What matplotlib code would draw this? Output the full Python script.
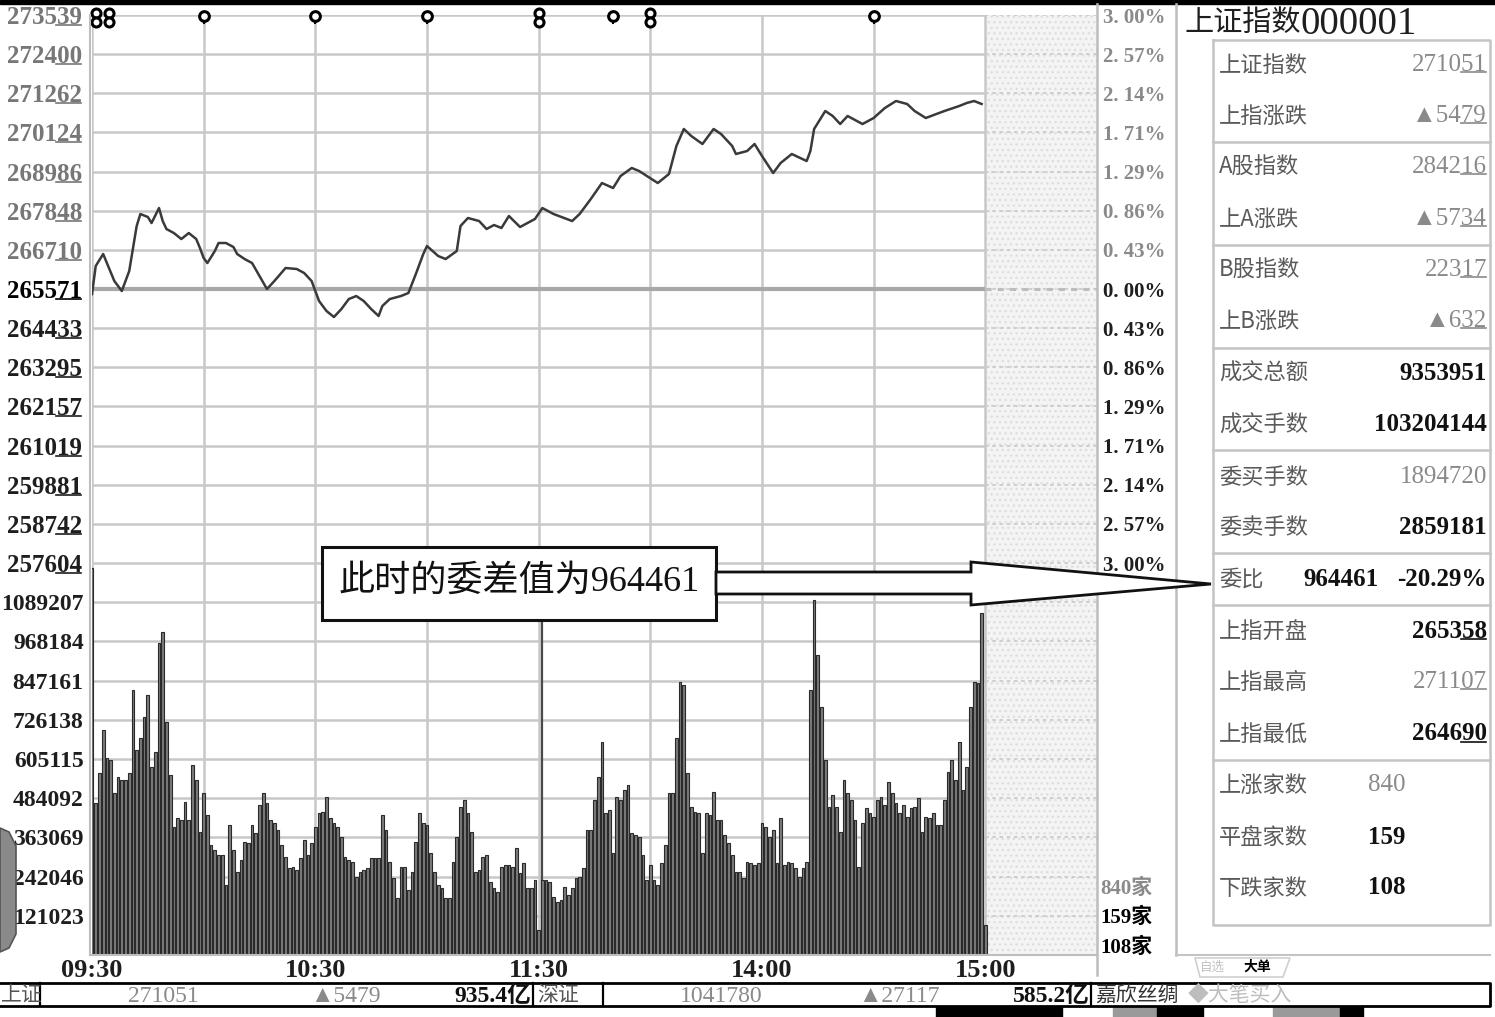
import matplotlib
matplotlib.use("Agg")
import matplotlib.pyplot as plt
from matplotlib.patches import Polygon, Rectangle
from matplotlib.lines import Line2D

W, H = 1495, 1017

# ---- data ----
PRICE_TICKS = [273539, 272400, 271262, 270124, 268986, 267848, 266710, 265571,
               264433, 263295, 262157, 261019, 259881, 258742, 257604]
PCT_LABELS = ["3. 00%", "2. 57%", "2. 14%", "1. 71%", "1. 29%", "0. 86%", "0. 43%", "0. 00%",
              "0. 43%", "0. 86%", "1. 29%", "1. 71%", "2. 14%", "2. 57%", "3. 00%"]
VOL_TOP = 1210230
VOL_TICKS = [1089207, 968184, 847161, 726138, 605115, 484092, 363069, 242046, 121023]
TIME_TICKS = [0, 60, 120, 180, 240]
TIME_LABELS = ["09:30", "10:30", "11:30", "14:00", "15:00"]

# minutes since 09:30 (lunch break removed) and index value
PRICE_T = [0, 1, 3, 4, 6, 8, 10, 12, 13, 15, 16, 18, 19, 20, 22, 24, 25, 26, 28, 29,
           30, 31, 33, 34, 36, 38, 39, 41, 43, 45, 47, 49, 52, 55, 57, 59, 61, 63, 65, 67,
           69, 71, 73, 75, 77, 78, 80, 83, 85, 87, 89, 90, 93, 95, 98, 99, 101, 104, 106, 108,
           110, 112, 115, 119, 121, 124, 129, 131, 134, 137, 140, 142, 145, 147, 152, 155, 157, 159, 161, 164,
           167, 169, 172, 173, 176, 178, 180, 183, 185, 188, 192, 193, 194, 197, 199, 201, 203, 207, 210, 213,
           216, 219, 221, 224, 229, 233, 235, 237, 239]
PRICE_V = [265426, 266240, 266589, 266327, 265804, 265513, 266094, 267403, 267752, 267665,
           267490, 267926, 267548, 267316, 267199, 267025, 267112, 267199, 267025, 266763,
           266472, 266327, 266676, 266909, 266909, 266792, 266589, 266443, 266327, 265949,
           265571, 265804, 266182, 266153, 266036, 265804, 265222, 264931, 264757, 264989,
           265280, 265367, 265222, 264989, 264786, 265077, 265280, 265367, 265455, 266007,
           266589, 266821, 266531, 266443, 266676, 267403, 267636, 267548, 267316, 267432,
           267345, 267694, 267374, 267607, 267926, 267752, 267548, 267752, 268188, 268653,
           268508, 268857, 269090, 269002, 268653, 268915, 269729, 270224, 270020, 269788,
           270224, 270078, 269729, 269497, 269584, 269788, 269439, 268944, 269235, 269497,
           269293, 269584, 270224, 270747, 270602, 270369, 270602, 270369, 270544, 270834,
           271038, 270951, 270747, 270544, 270747, 270893, 270980, 271038, 270951]

# one bar per minute, in thousands of lots
VOLUME_K = [
    1195, 468, 561, 695, 607, 602, 499, 551, 540, 540,
    561, 818, 633, 669, 736, 803, 581, 628, 962, 998,
    720, 556, 396, 422, 417, 473, 417, 587, 540, 381,
    499, 432, 340, 324, 309, 309, 216, 401, 324, 257,
    293, 350, 345, 401, 376, 463, 499, 468, 417, 406,
    386, 340, 304, 268, 273, 262, 298, 355, 309, 345,
    396, 437, 442, 489, 422, 406, 396, 365, 304, 293,
    288, 242, 257, 262, 268, 298, 298, 298, 432, 386,
    288, 237, 175, 273, 273, 201, 257, 350, 437, 406,
    401, 314, 257, 216, 206, 175, 175, 288, 365, 458,
    478, 437, 381, 257, 262, 304, 309, 226, 206, 196,
    273, 278, 278, 273, 329, 252, 283, 206, 206, 232,
    77, 232, 232, 226, 180, 165, 170, 211, 185, 206,
    237, 242, 268, 386, 386, 478, 551, 659, 437, 448,
    314, 489, 478, 509, 525, 376, 370, 365, 309, 232,
    278, 232, 216, 283, 340, 499, 499, 669, 844, 833,
    561, 458, 442, 437, 314, 437, 432, 504, 417, 417,
    370, 345, 309, 257, 257, 237, 288, 283, 278, 283,
    406, 396, 365, 386, 283, 422, 278, 288, 283, 268,
    242, 268, 288, 818, 1096, 926, 767, 602, 458, 494,
    458, 381, 540, 499, 478, 417, 273, 406, 453, 437,
    427, 478, 489, 463, 535, 499, 468, 437, 463, 427,
    453, 458, 484, 381, 427, 422, 437, 401, 401, 478,
    566, 602, 540, 659, 509, 581, 767, 844, 839, 1055,
    93,
]
CURSOR_T = 121

MARK_O_T = [30, 60, 90, 140, 210]
MARK_8_T = [1, 4.5, 120, 150]

PANEL_ROWS = [
    ("上证指数", "271051", "gray"), ("上指涨跌", "▲5479", "gray"),
    ("A股指数", "284216", "gray"), ("上A涨跌", "▲5734", "gray"),
    ("B股指数", "22317", "gray"), ("上B涨跌", "▲632", "gray"),
    ("成交总额", "9353951", "bold"), ("成交手数", "103204144", "bold"),
    ("委买手数", "1894720", "gray"), ("委卖手数", "2859181", "bold"),
    ("委比", "-20.29%", "bold"),
    ("上指开盘", "265358", "bold"), ("上指最高", "271107", "gray"), ("上指最低", "264690", "bold"),
    ("上涨家数", "840", "gray"), ("平盘家数", "159", "bold"), ("下跌家数", "108", "bold"),
]
WEIBI_DIFF = "964461"
UNDERLINED = {"271051", "▲5479", "284216", "▲5734", "22317", "▲632", "265358", "271107", "264690"}

SERIF = ["Liberation Serif", "Noto Sans CJK SC", "DejaVu Sans"]
CJK = ["Noto Sans CJK SC", "DejaVu Sans"]
GRID = "#c8c8c8"
GRAY_TXT = "#777777"
DARK = "#1e1e1e"

plt.rcParams["font.family"] = SERIF

fig = plt.figure(figsize=(W / 100, H / 100), dpi=100)
fig.patch.set_facecolor("white")


def rect(x0, y0, x1, y1):
    return [x0 / W, 1 - y1 / H, (x1 - x0) / W, (y1 - y0) / H]


def ftext(x, y, s, **kw):
    kw.setdefault("va", "center")
    return fig.text(x / W, 1 - y / H, s, **kw)


def fline(xs, ys, **kw):
    fig.add_artist(Line2D([x / W for x in xs], [1 - y / H for y in ys], **kw))


def fpoly(pts, **kw):
    fig.add_artist(Polygon([(x / W, 1 - y / H) for x, y in pts], closed=True,
                           transform=fig.transFigure, **kw))


ax_p = fig.add_axes(rect(92, 15, 1097, 563))
ax_v = fig.add_axes(rect(92, 563, 1097, 955))
for ax in (ax_p, ax_v):
    ax.set_xlim(0, 270)
    ax.set_xticks([])
    for s in ax.spines.values():
        s.set_visible(False)
    ax.set_facecolor("white")
    ax.axvspan(240, 270, facecolor="#f4f4f4", edgecolor="#dedede", hatch="...", lw=0, zorder=0)
    ax.vlines(range(0, 241, 30), 0, 1, transform=ax.get_xaxis_transform(),
              color=GRID, lw=1.8, zorder=1)

# ---- price panel ----
ax_p.set_ylim(PRICE_TICKS[-1], PRICE_TICKS[0])
ax_p.hlines(PRICE_TICKS, 0, 240, color=GRID, lw=1.8, zorder=1)
ax_p.hlines(PRICE_TICKS, 240, 270, color="#cccccc", lw=1.3, linestyles=(0, (2, 2)), zorder=1)
ax_p.hlines(PRICE_TICKS[7], 0, 240, color="#a8a8a8", lw=3.0, zorder=1)
ax_p.hlines(PRICE_TICKS[7], 240, 270, color="#bdbdbd", lw=2.2, linestyles=(0, (2, 2)), zorder=1)
ax_p.plot(PRICE_T, PRICE_V, color="#3a3a3a", lw=1.8, zorder=3)

ax_p.set_yticks(PRICE_TICKS, labels=[str(v) for v in PRICE_TICKS])
ax_p.tick_params(axis="y", length=0, pad=7, labelsize=18)
for i, lab in enumerate(ax_p.get_yticklabels()):
    lab.set_fontweight("bold")
    lab.set_color(GRAY_TXT if i < 7 else DARK)
    if i == 7:
        lab.set_color("black")

ax_r = ax_p.twinx()
ax_r.set_ylim(PRICE_TICKS[-1], PRICE_TICKS[0])
for s in ax_r.spines.values():
    s.set_visible(False)
ax_r.set_yticks(PRICE_TICKS, labels=PCT_LABELS)
ax_r.tick_params(axis="y", length=0, pad=4, labelsize=15)
for i, lab in enumerate(ax_r.get_yticklabels()):
    lab.set_fontweight("bold")
    lab.set_color("#8a8a8a" if i < 7 else DARK)

# event markers along the top edge
y_top = PRICE_TICKS[0]
px = (PRICE_TICKS[0] - PRICE_TICKS[-1]) / 548.0
for t in MARK_O_T:
    ax_p.plot([t, t], [y_top - 2 * px, y_top - 8 * px], color="black", lw=1.5, clip_on=False, zorder=6)
    ax_p.plot([t], [y_top - 1 * px], marker="o", ms=7, mfc="white", mec="black", mew=2.2,
              clip_on=False, zorder=7)
for t in MARK_8_T:
    ax_p.plot([t, t], [y_top + 4 * px, y_top - 10 * px], color="black", lw=1.2, clip_on=False, zorder=6)
    ax_p.plot([t, t], [y_top + 2 * px, y_top - 7 * px], ls="none", marker="o", ms=6.5, mfc="white",
              mec="black", mew=2.2, clip_on=False, zorder=7)

# ---- volume panel ----
ax_v.set_ylim(0, VOL_TOP)
ax_v.hlines(VOL_TICKS + [VOL_TOP], 0, 240, color=GRID, lw=1.8, zorder=1)
ax_v.hlines(VOL_TICKS + [VOL_TOP], 240, 270, color="#cccccc", lw=1.3, linestyles=(0, (2, 2)), zorder=1)
ax_v.axvline(CURSOR_T, color="#4a4a4a", lw=1.6, zorder=2)
ax_v.bar(range(len(VOLUME_K)), [v * 1000 for v in VOLUME_K], width=0.72, color="#7c7c7c",
         edgecolor="#2a2a2a", lw=0.8, zorder=3)
ax_v.set_yticks(VOL_TICKS, labels=[str(v) for v in VOL_TICKS])
ax_v.tick_params(axis="y", length=0, pad=6, labelsize=17)
for lab in ax_v.get_yticklabels():
    lab.set_fontweight("bold")
    lab.set_color(DARK)
ax_v.set_xticks(TIME_TICKS, labels=TIME_LABELS)
ax_v.tick_params(axis="x", length=0, pad=3, labelsize=19)
for lab in ax_v.get_xticklabels():
    lab.set_fontweight("bold")
    lab.set_color(DARK)

# frame / separator lines
fline([90, 90], [15, 955], color="#bdbdbd", lw=1.5)
fline([90, 1097], [955, 955], color="#bdbdbd", lw=1.5)
fline([1097, 1097], [4, 975], color="#bdbdbd", lw=1.8)
fline([1176, 1176], [4, 955], color="#bdbdbd", lw=1.8)
fline([1176, 1490], [955, 955], color="#c4c4c4", lw=1.5)
fig.add_artist(Rectangle((0, 1 - 4 / H), 1, 4 / H, transform=fig.transFigure, color="black"))

# breadth counts under the percent scale
ftext(1100, 889, "840家", fontsize=15, color="#8a8a8a", fontweight="bold")
ftext(1100, 918, "159家", fontsize=15, color="black", fontweight="bold")
ftext(1100, 948, "108家", fontsize=15, color="black", fontweight="bold")

# ---- right quote panel ----
ftext(1185, 23, "上证指数", fontsize=21, color=DARK, family=CJK)
ftext(1300, 24, "000001", fontsize=28, color=DARK)
fline([1213, 1490, 1490, 1213, 1213], [40, 40, 925, 925, 40], color="#c4c4c4", lw=1.8)
for y in [142, 245, 348, 450, 553, 605, 760]:
    fline([1213, 1490], [y, y], color="#c4c4c4", lw=1.8)

row_y = [65, 116, 167, 219, 270, 321, 373, 425, 477, 528, 579, 631, 682, 734, 785, 837, 888]
underline_targets = []
for (name, val, style), y in zip(PANEL_ROWS, row_y):
    ftext(1219, y, name, fontsize=16, color="#5a5a5a", family=CJK)
    col = "#8a8a8a" if style == "gray" else "#111111"
    wt = "normal" if style == "gray" else "bold"
    if name.endswith("家数"):
        ftext(1368, y, val, fontsize=18, color=col, fontweight=wt, ha="left")
    else:
        t = ftext(1487, y, val, fontsize=18, color=col, fontweight=wt, ha="right")
        if val in UNDERLINED:
            underline_targets.append(t)
    if name == "委比":
        ftext(1378, y, WEIBI_DIFF, fontsize=18, color="#111111", fontweight="bold", ha="right")

# tabs below the panel
fpoly([(1195, 958), (1290, 958), (1283, 977), (1200, 977)], facecolor="white", edgecolor="#cfcfcf", lw=1.2)
ftext(1200, 967, "自选", fontsize=9, color="#c0c0c0", family=CJK)
ftext(1243, 967, "大单", fontsize=10, color="black", family=CJK, fontweight="bold")

# ---- callout box and hollow arrow ----
fpoly([(322, 547), (716, 547), (716, 620), (322, 620)], facecolor="white", edgecolor="#111111", lw=2.2, zorder=5)
ftext(519, 582, "此时的委差值为964461", fontsize=26, color="#111111", ha="center", zorder=6)
fpoly([(716, 572), (971, 572), (971, 562), (1211, 584), (971, 605), (971, 594), (716, 594)],
      facecolor="white", edgecolor="#111111", lw=2.0, zorder=5)

# ---- bottom ticker strip ----
fline([0, 1490, 1490, 0], [983, 983, 1006, 1006], color="black", lw=2.0)
for x in [40, 533, 603, 1091]:
    fline([x, x], [983, 1006], color="black", lw=1.6)
ftext(1, 995, "上证", fontsize=15, color="#555555", family=CJK)
ftext(128, 996, "271051", fontsize=17, color="#8a8a8a")
ftext(310, 996, "▲5479", fontsize=17, color="#8a8a8a")
ftext(531, 996, "935.4亿", fontsize=17, color="#111111", fontweight="bold", ha="right")
ftext(537, 995, "深证", fontsize=15, color="#555555", family=CJK)
ftext(680, 996, "1041780", fontsize=17, color="#8a8a8a")
ftext(858, 996, "▲27117", fontsize=17, color="#8a8a8a")
ftext(1090, 996, "585.2亿", fontsize=17, color="#111111", fontweight="bold", ha="right")
ftext(1095, 995, "嘉欣丝绸", fontsize=15, color="#333333", family=CJK)
ftext(1188, 995, "◆大笔买入", fontsize=15, color="#bdbdbd", family=CJK)
for x0, x1, c in [(936, 1062, "black"), (1113, 1157, "#9a9a9a"), (1157, 1203, "black"),
                  (1273, 1340, "#9a9a9a"), (1340, 1363, "black")]:
    fig.add_artist(Rectangle((x0 / W, 0), (x1 - x0) / W, 10 / H, transform=fig.transFigure, color=c))

# cut-off badge at the left edge
fpoly([(0, 828), (9, 832), (16, 846), (16, 934), (9, 948), (0, 952)],
      facecolor="#8a8a8a", edgecolor="#555555", lw=1.2, zorder=8)

# underline the last two digits, as the terminal does
fig.canvas.draw()
r = fig.canvas.get_renderer()
for lab in ax_p.get_yticklabels():
    underline_targets.append(lab)
for t in underline_targets:
    bb = t.get_window_extent(r)
    dw = t.get_fontsize() * 0.5 * fig.dpi / 72
    x1 = bb.x1 - 1
    y = bb.y0 + 4
    fig.add_artist(Line2D([(x1 - 2 * dw) / W, x1 / W], [y / H, y / H], color=t.get_color(), lw=1.2))

fig.savefig("out.png", dpi=100, facecolor="white")
